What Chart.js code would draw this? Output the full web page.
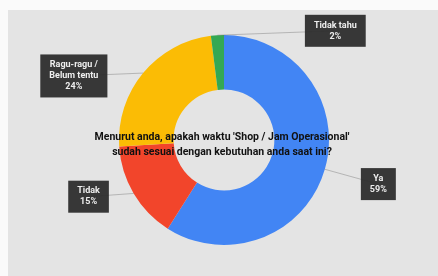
<!DOCTYPE html>
<html>
<head>
<meta charset="utf-8">
<script src="https://cdn.jsdelivr.net/npm/chart.js@4"></script>
<style>
  body { margin: 0; background: #fafafa; }
  #panel { position: absolute; left: 8px; top: 10px; width: 430px; height: 266px; background: #e4e4e4; }
  #wrap { position: absolute; left: 0; top: 0; width: 438px; height: 276px; }
</style>
</head>
<body>
<div id="panel"></div>
<div id="wrap"><canvas id="donut"></canvas></div>
<script>
// data
const answers = ['Ya', 'Tidak', 'Ragu-ragu / Belum tentu', 'Tidak tahu'];
const shares = [59, 15, 24, 2];
const labelLines = [['Ya', '59%'], ['Tidak', '15%'], ['Ragu-ragu /', 'Belum tentu', '24%'], ['Tidak tahu', '2%']];
const question = ["Menurut anda, apakah waktu 'Shop / Jam Operasional'", 'sudah sesuai dengan kebutuhan anda saat ini?'];
const sliceColors = ['#4285f4', '#f2452b', '#fbbc05', '#34a853'];

// where each callout box sits, relative to the donut centre (in radii)
const calloutOffsets = [[1.47, 0.42], [-1.29, 0.54], [-1.43, -0.61], [1.06, -1.04]];

const calloutPlugin = {
    id: 'callouts',
    afterDatasetsDraw(chart) {
        const ctx = chart.ctx;
        const arcs = chart.getDatasetMeta(0).data;
        ctx.save();
        ctx.font = 'bold 9px Roboto, "Liberation Sans", sans-serif';
        ctx.textAlign = 'center';
        ctx.textBaseline = 'middle';
        arcs.forEach(function(arc, i) {
            const r = arc.outerRadius;
            const bx = arc.x + calloutOffsets[i][0] * r;
            const by = arc.y + calloutOffsets[i][1] * r;
            const mid = (arc.startAngle + arc.endAngle) / 2;
            const ex = arc.x + Math.cos(mid) * r;
            const ey = arc.y + Math.sin(mid) * r;
            // leader line
            ctx.strokeStyle = 'rgba(110,110,110,0.4)';
            ctx.lineWidth = 1;
            ctx.beginPath();
            ctx.moveTo(ex, ey);
            ctx.lineTo(bx, by);
            ctx.stroke();
            // box
            const lines = labelLines[i];
            let w = 0;
            lines.forEach(function(t) { w = Math.max(w, ctx.measureText(t).width); });
            w += 18;
            const h = lines.length * 11 + 10;
            ctx.fillStyle = 'rgba(45,45,45,0.95)';
            ctx.fillRect(bx - w / 2, by - h / 2, w, h);
            ctx.fillStyle = '#eeeeee';
            lines.forEach(function(t, k) {
                ctx.fillText(t, bx, by - h / 2 + 10.5 + k * 11);
            });
        });
        // question in the middle
        const a = arcs[0];
        ctx.font = 'bold 10.5px Roboto, "Liberation Sans", sans-serif';
        ctx.fillStyle = '#111';
        ctx.fillText(question[0], a.x - 2, a.y - 3);
        ctx.fillText(question[1], a.x - 2, a.y + 12);
        ctx.restore();
    }
};

new Chart(document.getElementById('donut'), {
    type: 'doughnut',
    data: {
        labels: answers,
        datasets: [{
            data: shares,
            backgroundColor: sliceColors,
            borderWidth: 0
        }]
    },
    options: {
        responsive: true,
        maintainAspectRatio: false,
        animation: false,
        cutout: '48%',
        layout: { padding: { left: 119, right: 109, top: 35, bottom: 31 } },
        plugins: {
            legend: { display: false },
            tooltip: { enabled: false }
        }
    },
    plugins: [calloutPlugin]
});
</script>
</body>
</html>
